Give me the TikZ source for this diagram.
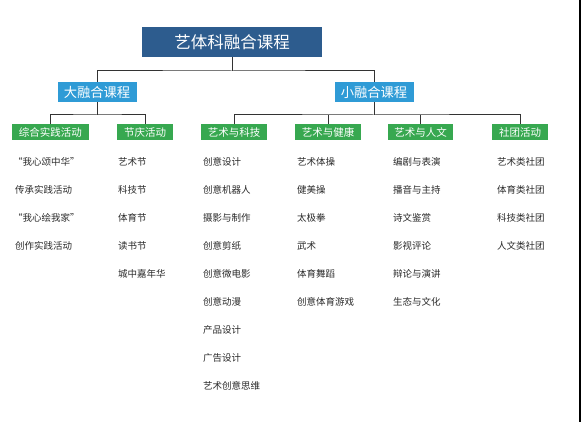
\documentclass[tikz,border=0pt]{standalone}
\usepackage{fontspec}
\setmainfont{Noto Sans CJK SC}
\newfontfamily\cjk{Noto Sans CJK SC}
\begin{document}
\begin{tikzpicture}[x=1pt,y=-1pt,
  titlebox/.style={fill=titleblue,text=white,inner sep=0pt,minimum width=180pt,minimum height=30pt,font=\cjk\fontsize{16.5}{18}\selectfont},
  midbox/.style={fill=midblue,text=white,inner sep=0pt,minimum width=79pt,minimum height=20pt,font=\cjk\fontsize{13.3}{15}\selectfont},
  catbox/.style={fill=catgreen,text=white,inner sep=0pt,minimum height=16pt,font=\cjk\fontsize{10.5}{12}\selectfont},
  item/.style={anchor=west,inner sep=0pt,text=itemgray,font=\cjk\fontsize{9.5}{11}\selectfont},
  link/.style={draw=linegray,line width=1pt}]
\definecolor{titleblue}{HTML}{2D5C8E}
\definecolor{midblue}{HTML}{2F9BD6}
\definecolor{catgreen}{HTML}{37A850}
\definecolor{linegray}{HTML}{333333}
\definecolor{itemgray}{HTML}{2A2A2A}
\useasboundingbox (0,0) rectangle (582,422);
\fill[white] (0,0) rectangle (582,422);
\draw[line width=2pt,black] (579.5,0) -- (579.5,422);

\node[titlebox] (title) at (232,42) {艺体科融合课程};
\node[midbox] (big) at (97,92) {大融合课程};
\node[midbox] (small) at (374,92) {小融合课程};

\node[catbox,minimum width=77pt] (c1) at (50.5,132.5) {综合实践活动};
\node[catbox,minimum width=56pt] (c2) at (145,132.5) {节庆活动};
\node[catbox,minimum width=66pt] (c3) at (234,132.5) {艺术与科技};
\node[catbox,minimum width=66pt] (c4) at (328,132.5) {艺术与健康};
\node[catbox,minimum width=65pt] (c5) at (420.5,132.5) {艺术与人文};
\node[catbox,minimum width=56pt] (c6) at (520,132.5) {社团活动};

\coordinate (tj) at (232,71);
\coordinate (bj) at (97,115);
\coordinate (sj) at (374,115);

\draw[link] (title.south) -- (tj);
\draw[link] (big.north) |- (tj) -| (small.north);
\draw[link] (big.south) -- (bj);
\draw[link] (c1.north) |- (bj) -| (c2.north);
\draw[link] (small.south) -- (sj);
\draw[link] (c3.north) |- (sj) -| (c6.north);
\draw[link] (c4.north) -- (c4.north |- sj);
\draw[link] (c5.north) -- (c5.north |- sj);

% column 1
\node[item] (a1) at (13,162) {“我心颂中华”};
\node[item] (a2) at (15,190) {传承实践活动};
\node[item] (a3) at (13,218) {“我心绘我家”};
\node[item] (a4) at (15,246) {创作实践活动};
% column 2
\node[item] (b1) at (118,162) {艺术节};
\node[item] (b2) at (118,190) {科技节};
\node[item] (b3) at (118,218) {体育节};
\node[item] (b4) at (118,246) {读书节};
\node[item] (b5) at (118,274) {城中嘉年华};
% column 3
\node[item] (d1) at (203,162) {创意设计};
\node[item] (d2) at (203,190) {创意机器人};
\node[item] (d3) at (203,218) {摄影与制作};
\node[item] (d4) at (203,246) {创意剪纸};
\node[item] (d5) at (203,274) {创意微电影};
\node[item] (d6) at (203,302) {创意动漫};
\node[item] (d7) at (203,330) {产品设计};
\node[item] (d8) at (203,358) {广告设计};
\node[item] (d9) at (203,386) {艺术创意思维};
% column 4
\node[item] (e1) at (297,162) {艺术体操};
\node[item] (e2) at (297,190) {健美操};
\node[item] (e3) at (297,218) {太极拳};
\node[item] (e4) at (297,246) {武术};
\node[item] (e5) at (297,274) {体育舞蹈};
\node[item] (e6) at (297,302) {创意体育游戏};
% column 5
\node[item] (f1) at (393,162) {编剧与表演};
\node[item] (f2) at (393,190) {播音与主持};
\node[item] (f3) at (393,218) {诗文鉴赏};
\node[item] (f4) at (393,246) {影视评论};
\node[item] (f5) at (393,274) {辩论与演讲};
\node[item] (f6) at (393,302) {生态与文化};
% column 6
\node[item] (g1) at (497,162) {艺术类社团};
\node[item] (g2) at (497,190) {体育类社团};
\node[item] (g3) at (497,218) {科技类社团};
\node[item] (g4) at (497,246) {人文类社团};
\end{tikzpicture}
\end{document}
